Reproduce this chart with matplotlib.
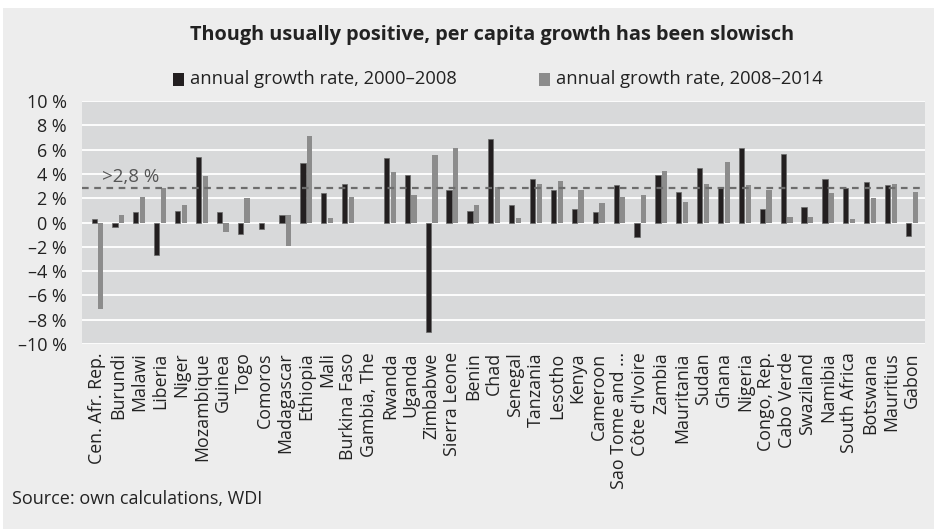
import matplotlib
matplotlib.use("Agg")
import matplotlib.pyplot as plt
from matplotlib.patches import Rectangle
import numpy as np

countries = ["Cen. Afr. Rep.", "Burundi", "Malawi", "Liberia", "Niger", "Mozambique",
             "Guinea", "Togo", "Comoros", "Madagascar", "Ethiopia", "Mali",
             "Burkina Faso", "Gambia, The", "Rwanda", "Uganda", "Zimbabwe",
             "Sierra Leone", "Benin", "Chad", "Senegal", "Tanzania", "Lesotho",
             "Kenya", "Cameroon", "Sao Tome and ...", "Côte d'Ivoire", "Zambia",
             "Mauritania", "Sudan", "Ghana", "Nigeria", "Congo, Rep.", "Cabo Verde",
             "Swaziland", "Namibia", "South Africa", "Botswana", "Mauritius", "Gabon"]

growth_2000_2008 = [0.3, -0.35, 0.85, -2.7, 0.95, 5.35, 0.85, -0.95, -0.55, 0.65,
                    4.9, 2.45, 3.15, 0.0, 5.3, 3.9, -9.0, 2.7, 0.95, 6.85,
                    1.45, 3.6, 2.7, 1.15, 0.85, 3.05, -1.2, 3.9, 2.5, 4.5,
                    2.8, 6.15, 1.1, 5.65, 1.3, 3.6, 2.8, 3.35, 3.05, -1.1]

growth_2008_2014 = [-7.1, 0.65, 2.1, 2.8, 1.4, 3.8, -0.75, 2.0, 0.0, -1.9,
                    7.15, 0.4, 2.1, 0.0, 4.15, 2.25, 5.55, 6.15, 1.4, 2.95,
                    0.35, 3.15, 3.4, 2.7, 1.6, 2.1, 2.25, 4.2, 1.7, 3.2,
                    5.0, 3.05, 2.65, 0.45, 0.45, 2.45, 0.3, 2.0, 3.2, 2.5]

# starting level of the 2008-2014 bar (drawn floating for Madagascar in the source)
base_2008_2014 = [0.0] * 9 + [0.65] + [0.0] * 30

threshold = 2.8
yticks = [-10, -8, -6, -4, -2, 0, 2, 4, 6, 8, 10]
ytick_labels = [("–" if v < 0 else "") + f"{abs(v)} %" for v in yticks]

title = "Though usually positive, per capita growth has been slowisch"
legend_labels = ["annual growth rate, 2000–2008", "annual growth rate, 2008–2014"]
source = "Source: own calculations, WDI"

FONT = ["Open Sans", "DejaVu Sans"]
plt.rcParams["font.family"] = FONT

W, H = 934, 529
fig = plt.figure(figsize=(W / 100, H / 100), dpi=100)
fig.patch.set_facecolor("white")
fig.patches.append(Rectangle((3 / W, 0), 1, 1 - 8 / H, transform=fig.transFigure,
                             facecolor="#ededed", edgecolor="none", zorder=-10))

ax = fig.add_axes([82 / W, 1 - 344 / H, (925 - 82) / W, (344 - 101) / H])
ax.set_facecolor("#d8d9da")

x = np.arange(len(countries))
bw = 0.25
off = 0.16
black = "#231f20"
grey = "#8c8c8c"
g1 = np.array(growth_2000_2008)
nz = g1 != 0
ax.bar(x[nz] - off, g1[nz], width=bw, color=black, edgecolor="#6a6a6a",
       linewidth=0.5, zorder=3)
base = np.array(base_2008_2014)
ax.bar(x + off, np.array(growth_2008_2014) - base, bottom=base, width=bw,
       color=grey, edgecolor="none", zorder=3)

ax.axhline(threshold, color="#6d6d6d", linestyle=(0, (3, 2.5)), linewidth=1.6, zorder=4)
ax.text(0.2, threshold + 0.2, ">2,8 %", fontsize=13.5, color="#555555",
        ha="left", va="bottom", zorder=5)

ax.set_xlim(-0.74, 39.63)
ax.set_ylim(-10, 10)
ax.set_yticks(yticks)
ax.set_yticklabels(ytick_labels, fontsize=13, color="#222222")
ax.set_xticks(x)
ax.set_xticklabels(countries, rotation=90, fontsize=12.8, color="#222222")
ax.tick_params(axis="both", length=0)
ax.tick_params(axis="y", pad=11)
ax.tick_params(axis="x", pad=6)
ax.grid(axis="y", color="white", linewidth=1.3, zorder=1)
ax.set_axisbelow(True)
for s in ax.spines.values():
    s.set_visible(False)

fig.text(492 / W, 1 - 35 / H, title, ha="center", va="center", fontsize=14.3,
         fontweight="bold", color="#222222")

# legend
ly = 1 - 79 / H
for (sx, col, lab) in [(173, black, legend_labels[0]), (539, grey, legend_labels[1])]:
    fig.patches.append(Rectangle((sx / W, ly - 6.5 / H), 11 / W, 13 / H,
                                 transform=fig.transFigure, facecolor=col,
                                 edgecolor="none"))
    fig.text((sx + 17) / W, ly, lab, ha="left", va="center", fontsize=13.2,
             color="#222222")

fig.text(12 / W, 1 - 499 / H, source, ha="left", va="center", fontsize=13,
         color="#222222")

fig.savefig("out.png", dpi=100, facecolor=fig.get_facecolor())
